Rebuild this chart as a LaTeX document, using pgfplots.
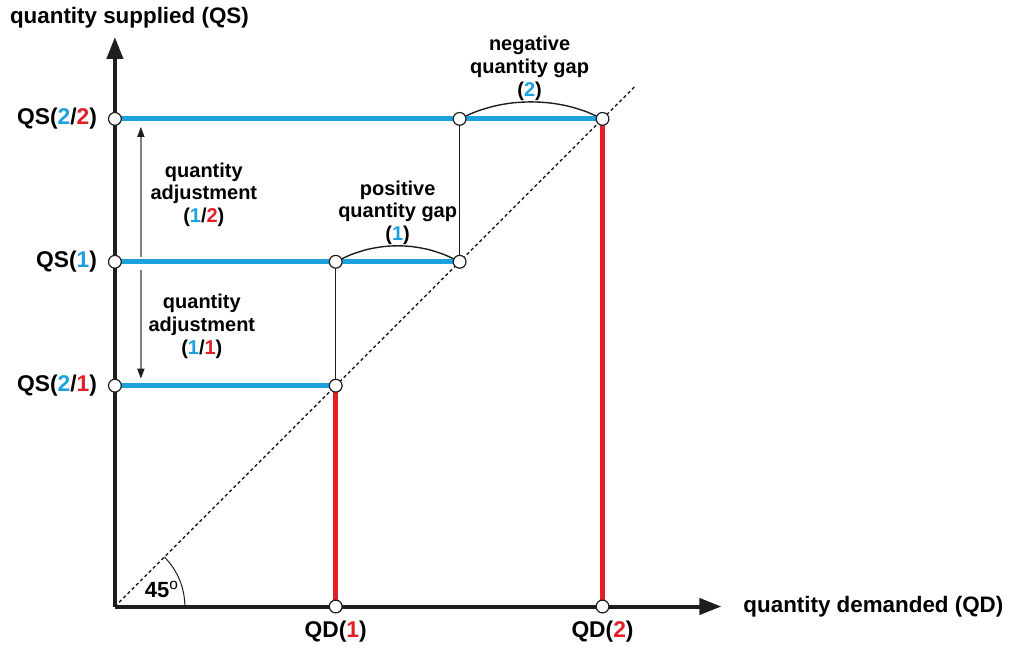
\documentclass[border=0pt]{standalone}
\usepackage{pgfplots}
\pgfplotsset{compat=1.18}
\usepackage{fontspec}
\setmainfont{Liberation Sans}
\usetikzlibrary{arrows.meta}
\definecolor{qsblue}{RGB}{29,161,222}
\definecolor{qdred}{RGB}{226,30,38}
\definecolor{txt}{RGB}{55,55,55}
\definecolor{axc}{RGB}{30,30,30}
\begin{document}
\begin{tikzpicture}
\begin{axis}[
  width=505pt, height=323pt, scale only axis,
  xmin=-115, xmax=895, ymin=-39, ymax=607,
  hide axis, clip=false,
  every node/.style={font=\bfseries, text=txt},
]
% bounding box
\addplot[draw=none] coordinates {(-115,-39) (895,607)};
% 45 degree line
\addplot[axc, line width=0.75pt, dash pattern=on 1.6pt off 1.4pt] coordinates {(0,0) (520,520)};
% axes
\addplot[axc, line width=2pt, -{Triangle[length=11pt,width=8pt]}] coordinates {(0,0) (0,570)};
\addplot[axc, line width=2pt, -{Triangle[length=11pt,width=8pt]}] coordinates {(0,0) (607,0)};
% thin connectors
\addplot[axc, line width=0.7pt] coordinates {(221,221) (221,345)};
\addplot[axc, line width=0.7pt] coordinates {(345,345) (345,488)};
% gap arcs
\addplot[axc, line width=0.7pt, smooth] coordinates {(221,345) (236,352) (252,357.2) (268,360.1) (283,361) (298,360.1) (314,357.2) (330,352) (345,345)};
\addplot[axc, line width=0.7pt, smooth] coordinates {(345,488) (362,495.5) (380,500.9) (398,504) (416.5,505) (435,504) (453,500.9) (471,495.5) (488,488)};
% blue QS lines
\addplot[qsblue, line width=2.5pt] coordinates {(0,488) (488,488)};
\addplot[qsblue, line width=2.5pt] coordinates {(0,345) (345,345)};
\addplot[qsblue, line width=2.5pt] coordinates {(0,221) (221,221)};
% red QD lines
\addplot[qdred, line width=2.5pt] coordinates {(221,0) (221,221)};
\addplot[qdred, line width=2.5pt] coordinates {(488,0) (488,488)};
% adjustment arrows
\addplot[gray, line width=0.7pt, -{Triangle[length=5pt,width=3.5pt,color=axc]}] coordinates {(26,350) (26,480)};
\addplot[gray, line width=0.7pt, -{Triangle[length=5pt,width=3.5pt,color=axc]}] coordinates {(26,337) (26,228)};
% circles
\addplot[only marks, mark=*, mark size=3.2pt, mark options={fill=white, draw=axc, line width=0.6pt}] coordinates {
(0,488) (0,345) (0,221) (345,488) (488,488) (221,345) (345,345) (221,221) (221,0) (488,0)};
% 45 degree arc
\draw[axc, line width=0.5pt] (axis cs:70,0) arc[start angle=0, end angle=45, radius=35pt];
\node[font=\fontsize{11}{13}\selectfont\bfseries] at (axis cs:47,17) {45$^{\mathrm{o}}$};
% axis titles
\node[anchor=west, font=\fontsize{11.2}{13}\selectfont\bfseries] at (axis cs:-112,589) {quantity supplied (QS)};
\node[anchor=west, font=\fontsize{11.2}{13}\selectfont\bfseries] at (axis cs:622,0) {quantity demanded (QD)};
% QS labels
\node[anchor=east, font=\fontsize{11.4}{13}\selectfont\bfseries] at (axis cs:-11,488) {QS(\textcolor{qsblue}{2}/\textcolor{qdred}{2})};
\node[anchor=east, font=\fontsize{11.4}{13}\selectfont\bfseries] at (axis cs:-11,345) {QS(\textcolor{qsblue}{1})};
\node[anchor=east, font=\fontsize{11.4}{13}\selectfont\bfseries] at (axis cs:-11,221) {QS(\textcolor{qsblue}{2}/\textcolor{qdred}{1})};
% QD labels
\node[font=\fontsize{11.4}{13}\selectfont\bfseries] at (axis cs:221,-25) {QD(\textcolor{qdred}{1})};
\node[font=\fontsize{11.4}{13}\selectfont\bfseries] at (axis cs:488,-25) {QD(\textcolor{qdred}{2})};
% annotations
\node[align=center, font=\fontsize{10}{11.5}\selectfont\bfseries] at (axis cs:89,412) {quantity\\adjustment\\(\textcolor{qsblue}{1}/\textcolor{qdred}{2})};
\node[align=center, font=\fontsize{10}{11.5}\selectfont\bfseries] at (axis cs:87,280) {quantity\\adjustment\\(\textcolor{qsblue}{1}/\textcolor{qdred}{1})};
\node[align=center, font=\fontsize{10}{11.5}\selectfont\bfseries] at (axis cs:283,394) {positive\\quantity gap\\(\textcolor{qsblue}{1})};
\node[align=center, font=\fontsize{10}{11.5}\selectfont\bfseries] at (axis cs:415,539) {negative\\quantity gap\\(\textcolor{qsblue}{2})};
\end{axis}
\end{tikzpicture}
\end{document}
